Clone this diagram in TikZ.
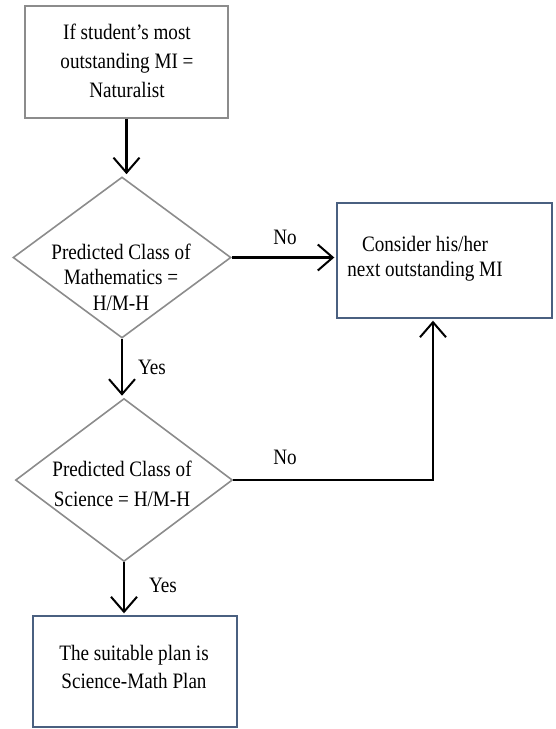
\documentclass[tikz,border=0pt]{standalone}
\usepackage{fontspec}
\setmainfont[FakeStretch=0.87]{Liberation Serif}
\usetikzlibrary{shapes.geometric,arrows.meta,calc}
\definecolor{boxgray}{RGB}{140,140,140}
\definecolor{boxblue}{RGB}{74,96,128}
\begin{document}
\begin{tikzpicture}[x=1pt,y=-1pt,
 every node/.style={font=\fontsize{22}{27}\selectfont, align=center, inner sep=0pt},
 graybox/.style={draw=boxgray, line width=1.4pt, rectangle},
 bluebox/.style={draw=boxblue, line width=1.4pt, rectangle},
 decision/.style={draw=boxgray, line width=1.6pt, diamond},
 flow/.style={line width=2.2pt, shorten >=2pt, -{Straight Barb[length=15pt,width=26pt,line width=2pt]}}]
\useasboundingbox (0,0) rectangle (555,729);
% boxes
\node[graybox, minimum width=203pt, minimum height=112pt] (top) at (126.5,62) {};
\node[font=\fontsize{22}{29}\selectfont] (ttop) at (127,61) {If student’s most\\outstanding MI =\\Naturalist};
\node[decision, minimum width=218pt, minimum height=161pt] (d1) at (122,257.5) {};
\node[font=\fontsize{22}{25.5}\selectfont] (td1) at (121,277) {Predicted Class of\\Mathematics =\\H/M-H};
\node[decision, minimum width=217pt, minimum height=163pt] (d2) at (124,480) {};
\node[font=\fontsize{22}{30}\selectfont] (td2) at (122,484) {Predicted Class of\\Science = H/M-H};
\node[bluebox, minimum width=215pt, minimum height=115pt] (b2) at (444.5,260.5) {};
\node[font=\fontsize{22}{25}\selectfont] (tb2) at (425,259) {Consider his/her\\next outstanding MI};
\node[bluebox, minimum width=204pt, minimum height=111pt] (b3) at (135,671.5) {};
\node[font=\fontsize{22}{28}\selectfont] (tb3) at (134,667) {The suitable plan is\\Science-Math Plan};
% labels
\node (no1) at (285,237) {No};
\node (no2) at (285,457) {No};
\node (yes1) at (152,367) {Yes};
\node (yes2) at (163,585) {Yes};
% connectors
\draw[flow] (top.south) -- (top.south |- d1.north);
\draw[flow] (d1.east) -- (d1.east -| b2.west);
\draw[flow] (d1.south) -- (d1.south |- d2.north);
\coordinate (c) at (433,480);
\draw[flow] (d2.east) -- (c) -- (c |- b2.south);
\draw[flow] (d2.south) -- (d2.south |- b3.north);
\end{tikzpicture}
\end{document}
